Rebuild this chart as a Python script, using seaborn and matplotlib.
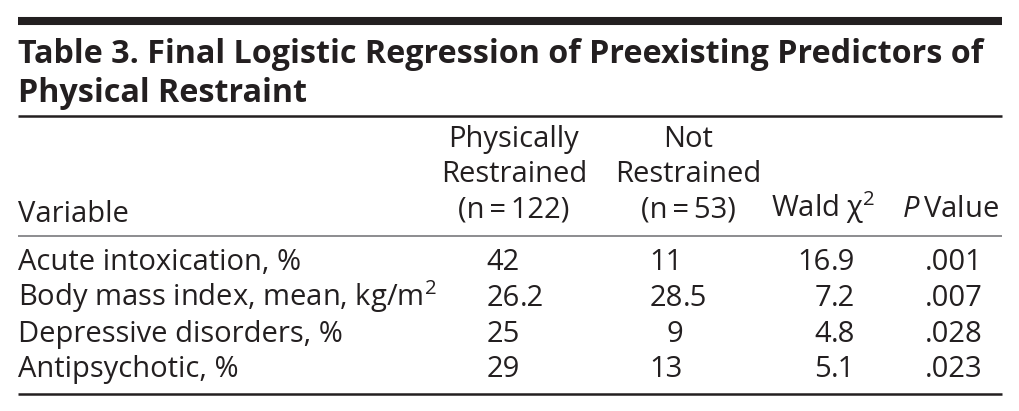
import pandas as pd
import seaborn as sns
import matplotlib.pyplot as plt

# table content
title_lines = ["Table 3. Final Logistic Regression of Preexisting Predictors of",
               "Physical Restraint"]
col_headers = [["Physically", "Restrained", "(n\u2009=\u2009122)"],
               ["Not", "Restrained", "(n\u2009=\u200953)"]]
variables = ["Acute intoxication, %",
             "Body mass index, mean, kg/m$^2$",
             "Depressive disorders, %",
             "Antipsychotic, %"]
restrained = ["42", "26.2", "25", "29"]
not_restrained = ["11", "28.5", "9", "13"]
wald_chi2 = ["16.9", "7.2", "4.8", "5.1"]
p_values = [".001", ".007", ".028", ".023"]

df = pd.DataFrame({"variable": variables, "restrained": restrained,
                   "not_restrained": not_restrained, "wald": wald_chi2,
                   "p": p_values})

sns.set_theme(style="white")
plt.rcParams['font.family'] = ['Open Sans', 'DejaVu Sans']
plt.rcParams['mathtext.fontset'] = 'custom'
plt.rcParams['mathtext.rm'] = 'Open Sans'
plt.rcParams['mathtext.it'] = 'Open Sans:italic'
plt.rcParams['mathtext.bf'] = 'Open Sans:bold'

ink = '#231f20'
fs = 21

fig = plt.figure(figsize=(10.2, 4.11), dpi=100)
ax = fig.add_axes([0, 0, 1, 1])
ax.set_xlim(0, 1020)
ax.set_ylim(411, 0)
ax.axis('off')

# rules
ax.plot([18, 1002], [21, 21], lw=5.8, color=ink, solid_capstyle='butt')
ax.plot([18, 1002], [116, 116], lw=1.8, color=ink, solid_capstyle='butt')
ax.plot([18, 1002], [235.5, 235.5], lw=1.1, color='#6d6e71', solid_capstyle='butt')
ax.plot([18, 1002], [394, 394], lw=1.8, color=ink, solid_capstyle='butt')

# title
for y, line in zip([63, 102], title_lines):
    ax.text(18, y, line, fontsize=23.2, fontweight='bold', color=ink, va='baseline')

# header
ax.text(18, 222, "Variable", fontsize=fs, color=ink, va='baseline')
for cx, lines in zip([514, 688], col_headers):
    for y, line in zip([147, 182, 217], lines):
        ax.text(cx, y, line, fontsize=fs, color=ink, ha='center', va='baseline')
ax.text(823, 217, "Wald \u03c7$^2$", fontsize=fs, color=ink, ha='center', va='baseline')
ax.text(999, 217, "$P$\u2009Value", fontsize=fs, color=ink, ha='right', va='baseline')

# body rows, numbers aligned on the decimal point
row_y = [270, 306, 341.5, 377]
anchors = {"restrained": 520, "not_restrained": 683, "wald": 831, "p": 925}
for y, (_, row) in zip(row_y, df.iterrows()):
    ax.text(18, y, row["variable"], fontsize=fs, color=ink, va='baseline')
    for col, x in anchors.items():
        whole, _, frac = row[col].partition('.')
        if whole:
            ax.text(x, y, whole, fontsize=fs, color=ink, ha='right', va='baseline')
        if frac:
            ax.text(x, y, '.' + frac, fontsize=fs, color=ink, ha='left', va='baseline')

fig.savefig('out.png', dpi=100)
